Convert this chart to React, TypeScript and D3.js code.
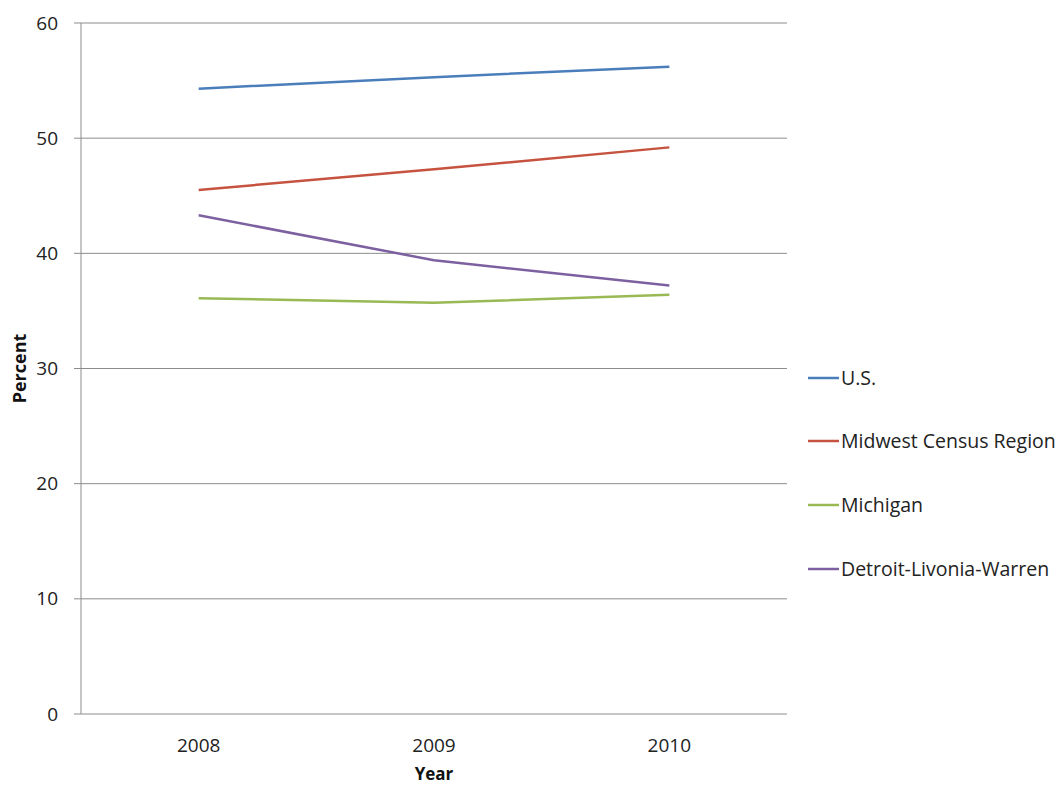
import React, { useEffect, useRef } from 'react';
import * as d3 from 'd3';

// chart values
const years = ['2008', '2009', '2010'];
const seriesNames = ['U.S.', 'Midwest Census Region', 'Michigan', 'Detroit-Livonia-Warren'];
const usValues = [54.3, 55.3, 56.2];
const midwestValues = [45.5, 47.3, 49.2];
const michiganValues = [36.1, 35.7, 36.4];
const detroitValues = [43.3, 39.4, 37.2];
const yTicks = [0, 10, 20, 30, 40, 50, 60];
const colors = ['#4a7ebb', '#c6533f', '#98b954', '#7d60a0'];

const FONT = '"Open Sans", "Noto Sans", sans-serif';

const App = () => {
    const ref = useRef<SVGSVGElement | null>(null);

    useEffect(() => {
        const svg = d3.select(ref.current);
        svg.selectAll('*').remove();

        const left = 81, right = 787, top = 23, bottom = 714;

        const x = d3.scaleBand().domain(years).range([left, right]);
        const y = d3.scaleLinear().domain([0, 60]).range([bottom, top]);

        // horizontal grid lines, including small ticks on the left
        svg.append('g')
            .selectAll('line')
            .data(yTicks)
            .enter().append('line')
            .attr('x1', left - 7)
            .attr('x2', right)
            .attr('y1', d => y(d))
            .attr('y2', d => y(d))
            .attr('stroke', '#8c8c8c')
            .attr('stroke-width', 1);

        // y axis line
        svg.append('line')
            .attr('x1', left).attr('x2', left)
            .attr('y1', top).attr('y2', bottom)
            .attr('stroke', '#8c8c8c');

        // y tick labels
        svg.append('g')
            .selectAll('text')
            .data(yTicks)
            .enter().append('text')
            .attr('x', left - 23)
            .attr('y', d => y(d))
            .attr('dy', '0.35em')
            .attr('text-anchor', 'end')
            .style('font-family', FONT)
            .style('font-size', '19px')
            .style('fill', '#222')
            .text(d => d);

        // x tick labels
        svg.append('g')
            .selectAll('text')
            .data(years)
            .enter().append('text')
            .attr('x', d => (x(d) as number) + x.bandwidth() / 2)
            .attr('y', 752)
            .attr('text-anchor', 'middle')
            .style('font-family', FONT)
            .style('font-size', '19px')
            .style('fill', '#222')
            .text(d => d);

        // axis titles
        svg.append('text')
            .attr('transform', `translate(26, ${(top + bottom) / 2}) rotate(-90)`)
            .attr('text-anchor', 'middle')
            .style('font-family', FONT)
            .style('font-size', '18px')
            .style('font-weight', 'bold')
            .style('fill', '#111')
            .text('Percent');

        svg.append('text')
            .attr('x', (left + right) / 2)
            .attr('y', 780)
            .attr('text-anchor', 'middle')
            .style('font-family', FONT)
            .style('font-size', '17px')
            .style('font-weight', 'bold')
            .style('fill', '#111')
            .text('Year');

        const allSeries = [usValues, midwestValues, michiganValues, detroitValues];

        const line = d3.line<number>()
            .x((d, i) => (x(years[i]) as number) + x.bandwidth() / 2)
            .y(d => y(d));

        allSeries.forEach((vals, i) => {
            svg.append('path')
                .datum(vals)
                .attr('fill', 'none')
                .attr('stroke', colors[i])
                .attr('stroke-width', 2.5)
                .attr('stroke-linejoin', 'round')
                .attr('d', line);
        });

        // legend
        const legendY = [378, 441, 505, 569];
        const lg = svg.append('g');
        seriesNames.forEach((name, i) => {
            lg.append('line')
                .attr('x1', 808).attr('x2', 839)
                .attr('y1', legendY[i]).attr('y2', legendY[i])
                .attr('stroke', colors[i])
                .attr('stroke-width', 2.5);
            lg.append('text')
                .attr('x', 841)
                .attr('y', legendY[i])
                .attr('dy', '0.35em')
                .style('font-family', FONT)
                .style('font-size', '19.5px')
                .style('fill', '#222')
                .text(name);
        });
    }, []);

    return (
        <svg
            ref={ref}
            width={1064}
            height={785}
            style={{ position: 'absolute', left: 0, top: 0, background: '#fff' }}
        />
    );
};

export default App;
